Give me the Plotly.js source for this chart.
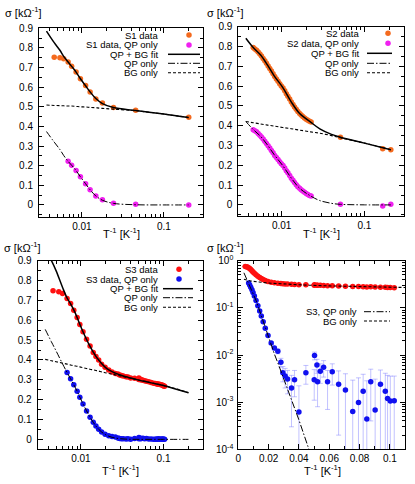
<!DOCTYPE html>
<html>
<head>
<meta charset="utf-8">
<script src="https://cdn.plot.ly/plotly-3.0.1.min.js"></script>
<style>
  html, body { margin: 0; padding: 0; background: #fff; }
  #chart { width: 415px; height: 484px; }
</style>
</head>
<body>
<div id="chart"></div>
<script>
// ---- S1 (top left) ----
const s1InvT = [0.0046, 0.0054, 0.0060, 0.0068, 0.0075, 0.0085, 0.0096, 0.0111, 0.0126, 0.0148, 0.0178, 0.0243, 0.0453, 0.201];
const s1Sigma = [0.752, 0.750, 0.745, 0.728, 0.706, 0.677, 0.643, 0.608, 0.576, 0.540, 0.520, 0.497, 0.482, 0.447];
const s1Qp = [null, null, null, 0.222, 0.202, 0.175, 0.143, 0.108, 0.077, 0.046, 0.026, 0.009, 0.003, 0.0];

const s1FitInvT = [0.0037, 0.0046, 0.0054, 0.0060, 0.0068, 0.0075, 0.0085, 0.0096, 0.0111, 0.0126, 0.0148, 0.0178, 0.0243, 0.0453, 0.1, 0.2];
const s1FitTotal = [0.886, 0.827, 0.788, 0.757, 0.728, 0.706, 0.677, 0.643, 0.607, 0.576, 0.542, 0.516, 0.496, 0.481, 0.463, 0.445];
const s1FitQp = [0.374, 0.320, 0.282, 0.252, 0.222, 0.202, 0.175, 0.143, 0.108, 0.077, 0.046, 0.024, 0.008, 0.001, 0.0, 0.0];
const s1FitBg = [0.509, 0.507, 0.506, 0.505, 0.504, 0.504, 0.502, 0.500, 0.499, 0.497, 0.495, 0.492, 0.488, 0.480, 0.463, 0.445];

// ---- S2 (top right) ----
const s2InvT = [0.00454, 0.00475, 0.00498, 0.00521, 0.00546, 0.00571, 0.00598, 0.00626, 0.00656, 0.00687,
                0.00719, 0.00753, 0.00788, 0.00825, 0.00864, 0.00905, 0.00948, 0.00992, 0.0104, 0.0109,
                0.0114, 0.0119, 0.0125, 0.0131, 0.0137, 0.0143, 0.0150, 0.0157, 0.0165, 0.0172,
                0.0180, 0.0189, 0.0198, 0.0207, 0.0217, 0.0227, 0.0513, 0.166, 0.208];
const s2Sigma = [0.795, 0.788, 0.781, 0.772, 0.762, 0.752, 0.740, 0.728, 0.715, 0.702,
                 0.689, 0.676, 0.662, 0.648, 0.636, 0.624, 0.612, 0.601, 0.590, 0.576,
                 0.562, 0.549, 0.535, 0.520, 0.507, 0.495, 0.483, 0.472, 0.462, 0.454,
                 0.446, 0.439, 0.432, 0.427, 0.423, 0.419, 0.342, 0.283, 0.279];
const s2Qp = [0.380, 0.374, 0.369, 0.361, 0.352, 0.343, 0.333, 0.322, 0.310, 0.299,
              0.287, 0.275, 0.263, 0.250, 0.239, 0.229, 0.218, 0.208, 0.199, 0.186,
              0.173, 0.162, 0.149, 0.135, 0.124, 0.113, 0.102, 0.092, 0.084, 0.077,
              0.070, 0.064, 0.058, 0.053, 0.048, 0.045, 0.003, -0.005, 0.003];

const s2FitInvT = [0.0037, 0.00454, 0.00558, 0.00674, 0.00813, 0.0103, 0.0130, 0.0164, 0.0224, 0.0289, 0.04, 0.0513, 0.1, 0.208];
const s2FitTotal = [0.842, 0.795, 0.757, 0.707, 0.652, 0.594, 0.522, 0.463, 0.418, 0.384, 0.356, 0.342, 0.312, 0.279];
const s2FitQp = [0.421, 0.381, 0.346, 0.303, 0.254, 0.199, 0.137, 0.085, 0.045, 0.022, 0.008, 0.003, 0.0003, 0.0];
const s2FitBg = [0.421, 0.415, 0.409, 0.403, 0.398, 0.391, 0.385, 0.378, 0.369, 0.362, 0.350, 0.339, 0.312, 0.279];

// ---- S3 (bottom row, same data in both panels) ----
const s3InvT = [0.0046, 0.0054, 0.0060, 0.0068, 0.0075, 0.0082, 0.0090, 0.0097, 0.0106, 0.0117,
                0.0129, 0.0141, 0.0152, 0.0164, 0.0178, 0.0196, 0.0217, 0.0238, 0.0261, 0.0281,
                0.0294, 0.0309, 0.0325, 0.0351, 0.0371, 0.0400, 0.0446, 0.0501, 0.0503, 0.0519,
                0.0523, 0.0541, 0.0563, 0.0589, 0.0620, 0.0662, 0.0707, 0.0755, 0.0793, 0.0824,
                0.0848, 0.0874, 0.0903, 0.0938, 0.0970, 0.0985, 0.1003, 0.1029];
const s3Sigma = [0.749, 0.744, 0.735, 0.710, 0.685, 0.651, 0.614, 0.579, 0.542, 0.504,
                 0.470, 0.438, 0.418, 0.400, 0.379, 0.363, 0.349, 0.339, 0.332, 0.329,
                 0.324, 0.322, 0.319, 0.315, 0.314, 0.309, 0.308, 0.302, 0.309, 0.303,
                 0.300, 0.300, 0.298, 0.295, 0.293, 0.290, 0.287, 0.283, 0.282, 0.280,
                 0.278, 0.279, 0.276, 0.275, 0.272, 0.271, 0.269, 0.267];
const s3Qp = [null, null, null, 0.337, 0.305, 0.275, 0.243, 0.212, 0.178, 0.143,
              0.111, 0.086, 0.067, 0.051, 0.037, 0.026, 0.018, 0.014, 0.012, 0.0070,
              0.0042, 0.0036, 0.0031, 0.0020, 0.0030, 0.00062, 0.0042, 0.0030, 0.0097, 0.0061,
              0.0027, 0.0045, 0.0055, 0.0027, 0.0044, 0.0024, 0.0018, 0.00063, 0.00098, 0.0017,
              0.00044, 0.0027, 0.00068, 0.0024, 0.0017, 0.0012, 0.00106, 0.00107];
const s3Err = [0.0012, 0.0012, 0.0012, 0.0012, 0.0012, 0.0012, 0.0012, 0.0012, 0.0012, 0.0012,
               0.0012, 0.0012, 0.0012, 0.0012, 0.0012, 0.0012, 0.0013, 0.0013, 0.0014, 0.0015,
               0.0015, 0.0016, 0.0016, 0.0017, 0.0017, 0.0016, 0.0018, 0.0019, 0.0018, 0.0020,
               0.0019, 0.0020, 0.0021, 0.0020, 0.0021, 0.0022, 0.0022, 0.0023, 0.0023, 0.0022,
               0.0024, 0.0023, 0.0024, 0.0024, 0.0024, 0.0025, 0.0025, 0.0025];

const s3FitInvT = [0.0037, 0.0044, 0.0050, 0.0060, 0.0068, 0.0075, 0.0082, 0.0090, 0.0097, 0.0106,
                   0.0117, 0.0129, 0.0141, 0.0152, 0.0164, 0.0178, 0.0196, 0.0217, 0.0238, 0.0261,
                   0.0300, 0.0350, 0.0400, 0.0466, 0.0600, 0.0800, 0.1000, 0.1500, 0.2000];
const s3FitTotal = [0.957, 0.900, 0.850, 0.765, 0.712, 0.683, 0.652, 0.614, 0.580, 0.542,
                    0.503, 0.468, 0.440, 0.418, 0.400, 0.382, 0.364, 0.350, 0.341, 0.334,
                    0.324, 0.315, 0.309, 0.302, 0.291, 0.280, 0.271, 0.250, 0.235];
const s3FitQp = [0.554, 0.491, 0.446, 0.380, 0.337, 0.305, 0.275, 0.243, 0.213, 0.179,
                 0.144, 0.112, 0.086, 0.067, 0.051, 0.037, 0.025, 0.016, 0.0105, 0.0068,
                 0.0032, 0.0012, 0.00042, 0.0001, 0.000008, 0.00000015, 0.000000003, 1e-13, 1e-17];
const s3FitBg = [0.403, 0.396, 0.391, 0.384, 0.379, 0.375, 0.371, 0.368, 0.365, 0.361,
                 0.357, 0.353, 0.350, 0.347, 0.344, 0.340, 0.336, 0.332, 0.329, 0.325,
                 0.319, 0.313, 0.308, 0.302, 0.292, 0.280, 0.271, 0.252, 0.235];

// ---- colours and line styles ----
const ORANGE = '#f46a1e';
const MAGENTA = '#f020f0';
const RED = '#ff1010';
const BLUE = '#1010f0';
const DASH_BG = '3px,2px';
const DASH_QP = '7px,2px,1.5px,2px';

const W = 415, H = 484;
const px = x => x / W;          // pixel -> paper (horizontal)
const py = y => 1 - y / H;      // pixel -> paper (vertical)

const FONT = 'Liberation Sans, Arial, Helvetica, sans-serif';

function markers(x, y, color, ax, extra) {
    return Object.assign({
        x: x, y: y, xaxis: ax[0], yaxis: ax[1],
        type: 'scatter', mode: 'markers',
        marker: { color: color, size: 5.5 },
        hoverinfo: 'skip', showlegend: false
    }, extra || {});
}

function curve(x, y, dash, width, ax, shape) {
    return {
        x: x, y: y, xaxis: ax[0], yaxis: ax[1],
        type: 'scatter', mode: 'lines',
        line: { color: '#000', width: width, dash: dash, shape: shape || 'spline' },
        hoverinfo: 'skip', showlegend: false
    };
}

const P1 = ['x', 'y'], P2 = ['x2', 'y2'], P3 = ['x3', 'y3'], P4 = ['x4', 'y4'];

const traces = [
    // panel 1
    markers(s1InvT, s1Sigma, ORANGE, P1),
    markers(s1InvT, s1Qp, MAGENTA, P1),
    curve(s1FitInvT, s1FitTotal, 'solid', 1.5, P1),
    curve(s1FitInvT, s1FitQp, DASH_QP, 1, P1),
    curve(s1FitInvT, s1FitBg, DASH_BG, 1.1, P1),
    // panel 2
    markers(s2InvT, s2Sigma, ORANGE, P2),
    markers(s2InvT, s2Qp, MAGENTA, P2),
    curve(s2FitInvT, s2FitTotal, 'solid', 1.5, P2),
    curve(s2FitInvT, s2FitQp, DASH_QP, 1, P2),
    curve(s2FitInvT, s2FitBg, DASH_BG, 1.1, P2),
    // panel 3
    markers(s3InvT, s3Sigma, RED, P3),
    markers(s3InvT, s3Qp, BLUE, P3),
    curve(s3FitInvT, s3FitTotal, 'solid', 1.5, P3),
    curve(s3FitInvT, s3FitQp, DASH_QP, 1, P3),
    curve(s3FitInvT, s3FitBg, DASH_BG, 1.1, P3),
    // panel 4 (linear 1/T, log sigma)
    markers(s3InvT, s3Sigma, RED, P4, {
        error_y: { type: 'data', array: s3Err, visible: true, color: 'rgba(255,80,80,0.6)', thickness: 1, width: 3 }
    }),
    markers(s3InvT, s3Qp, BLUE, P4, {
        error_y: { type: 'data', array: s3Err, visible: true, color: 'rgba(120,120,255,0.45)', thickness: 1, width: 2.5 }
    }),
    curve(s3FitInvT, s3FitQp, DASH_QP, 1, P4, 'linear'),
    curve(s3FitInvT, s3FitBg, DASH_BG, 1.1, P4, 'linear')
];

// ---- axes ----
const frame = {
    showline: true, linecolor: '#000', linewidth: 1, mirror: 'ticks',
    ticks: 'inside', ticklen: 5, tickwidth: 1, tickcolor: '#000',
    showgrid: false, zeroline: false,
    tickfont: { family: FONT, size: 10, color: '#000' }
};

const logMinor = [0.003, 0.004, 0.005, 0.006, 0.007, 0.008, 0.009,
                  0.02, 0.03, 0.04, 0.05, 0.06, 0.07, 0.08, 0.09, 0.2, 0.3];

function invTLogAxis(domain, anchor) {
    return Object.assign({}, frame, {
        domain: domain, anchor: anchor, type: 'log',
        range: [Math.log10(0.003), Math.log10(0.3)],
        tickmode: 'array', tickvals: [0.01, 0.1], ticktext: ['0.01', '0.1'],
        minor: { tickmode: 'array', tickvals: logMinor, ticks: 'inside', ticklen: 3, tickcolor: '#000', tickwidth: 1 }
    });
}

function sigmaLinAxis(domain, anchor, range) {
    return Object.assign({}, frame, {
        domain: domain, anchor: anchor, range: range,
        tick0: 0, dtick: 0.1, ticklabelstandoff: 3,
        minor: { tick0: 0, dtick: 0.05, ticks: 'inside', ticklen: 3, tickcolor: '#000', tickwidth: 1 }
    });
}

const decadeMinor = [];
[1e-4, 1e-3, 1e-2, 1e-1].forEach(d => {
    for (let k = 2; k <= 9; k++) decadeMinor.push(k * d);
});

const layout = {
    width: W, height: H,
    margin: { l: 0, r: 0, t: 0, b: 0 },
    paper_bgcolor: '#fff', plot_bgcolor: '#fff',
    font: { family: FONT, size: 10, color: '#000' },
    showlegend: false,

    xaxis: invTLogAxis([px(39), px(203)], 'y'),
    yaxis: sigmaLinAxis([py(216.7), py(28.3)], 'x', [-0.06, 0.9]),

    xaxis2: invTLogAxis([px(238.3), px(404)], 'y2'),
    yaxis2: sigmaLinAxis([py(216), py(26.7)], 'x2', [-0.056, 0.9]),

    xaxis3: invTLogAxis([px(37.7), px(203)], 'y3'),
    yaxis3: sigmaLinAxis([py(449.3), py(260.7)], 'x3', [-0.05, 0.9]),

    xaxis4: Object.assign({}, frame, {
        domain: [px(238.3), px(405)], anchor: 'y4',
        range: [0, 0.11], tick0: 0, dtick: 0.02,
        minor: { tick0: 0, dtick: 0.01, ticks: 'inside', ticklen: 3, tickcolor: '#000', tickwidth: 1 }
    }),
    yaxis4: Object.assign({}, frame, {
        domain: [py(449.3), py(260.7)], anchor: 'x4', type: 'log',
        range: [-4, 0], ticklabelstandoff: 2,
        tickmode: 'array', tickvals: [1e-4, 1e-3, 1e-2, 1e-1, 1],
        ticktext: ['10<sup>-4</sup>', '10<sup>-3</sup>', '10<sup>-2</sup>', '10<sup>-1</sup>', '10<sup>0</sup>'],
        minor: { tickmode: 'array', tickvals: decadeMinor, ticks: 'inside', ticklen: 3, tickcolor: '#000', tickwidth: 1 }
    }),

    shapes: [],
    annotations: []
};

// ---- axis titles ----
const sigmaTitle = 'σ [kΩ<sup>-1</sup>]';
const invTTitle = 'T<sup>-1</sup> [K<sup>-1</sup>]';

[[3, 12], [205, 12], [2, 246.5], [205, 246.5]].forEach(p => {
    layout.annotations.push({
        xref: 'paper', yref: 'paper', x: px(p[0]), y: py(p[1]),
        xanchor: 'left', yanchor: 'middle', showarrow: false,
        text: sigmaTitle, font: { family: FONT, size: 11 }
    });
});
[[121, 233], [321, 233], [120, 470], [322, 470]].forEach(p => {
    layout.annotations.push({
        xref: 'paper', yref: 'paper', x: px(p[0]), y: py(p[1]),
        xanchor: 'center', yanchor: 'middle', showarrow: false,
        text: invTTitle, font: { family: FONT, size: 11 }
    });
});

// ---- gnuplot-style keys: text right-aligned, sample on the right ----
function keyRow(textRight, y, label, sample) {
    layout.annotations.push({
        xref: 'paper', yref: 'paper', x: px(textRight), y: py(y),
        xanchor: 'right', yanchor: 'middle', showarrow: false,
        text: label, font: { family: FONT, size: 9.5 }
    });
    if (sample.color) {
        layout.shapes.push({
            type: 'circle', xref: 'paper', yref: 'paper',
            xsizemode: 'pixel', ysizemode: 'pixel',
            xanchor: px(sample.cx), yanchor: py(y),
            x0: -2.75, x1: 2.75, y0: -2.75, y1: 2.75,
            fillcolor: sample.color, line: { width: 0 }
        });
    } else {
        layout.shapes.push({
            type: 'line', xref: 'paper', yref: 'paper',
            x0: px(sample.x0), x1: px(sample.x1), y0: py(y), y1: py(y),
            line: { color: '#000', width: sample.width, dash: sample.dash }
        });
    }
}

function fullKey(name, dataColor, qpColor, textRight, rows, cx, x0, x1) {
    keyRow(textRight, rows[0], name + ' data', { color: dataColor, cx: cx });
    keyRow(textRight, rows[1], name + ' data, QP only', { color: qpColor, cx: cx });
    keyRow(textRight, rows[2], 'QP + BG fit', { x0: x0, x1: x1, width: 1.5, dash: 'solid' });
    keyRow(textRight, rows[3], 'QP only', { x0: x0, x1: x1, width: 1, dash: DASH_QP });
    keyRow(textRight, rows[4], 'BG only', { x0: x0, x1: x1, width: 1.1, dash: DASH_BG });
}

fullKey('S1', ORANGE, MAGENTA, 160, [35, 45, 54.3, 63.3, 72.7], 189, 168, 200);
fullKey('S2', ORANGE, MAGENTA, 361, [33.3, 43.3, 53.3, 63.3, 72.7], 388, 367, 392);
fullKey('S3', RED, BLUE, 160, [269.3, 279, 288.7, 297.7, 307.3], 179, 163, 193);
keyRow(359, 311.7, 'S3, QP only', { x0: 364, x1: 390, width: 1, dash: DASH_QP });
keyRow(359, 321, 'BG only', { x0: 364, x1: 390, width: 1.1, dash: DASH_BG });

Plotly.newPlot('chart', traces, layout, { displayModeBar: false, staticPlot: true });
</script>
</body>
</html>
